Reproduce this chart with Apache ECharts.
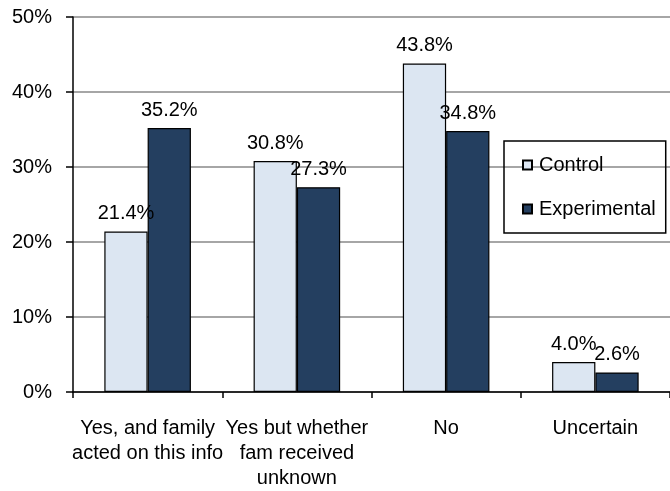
<!DOCTYPE html>
<html>
<head>
<meta charset="utf-8">
<script src="https://cdn.jsdelivr.net/npm/echarts@6/dist/echarts.min.js"></script>
<style>html,body{margin:0;padding:0;background:#fff;}#c{width:670px;height:491px;}</style>
</head>
<body>
<div id="c"></div>
<script>
const categories = ['Yes, and family\nacted on this info', 'Yes but whether\nfam received\nunknown', 'No', 'Uncertain'];
const controlValues = [21.4, 30.8, 43.8, 4.0];
const experimentalValues = [35.2, 27.3, 34.8, 2.6];
const yTicks = [0, 10, 20, 30, 40, 50];

const FONT = 'Liberation Sans';
const FS = 20;
const chart = echarts.init(document.getElementById('c'), null, {renderer: 'canvas'});
const labelCfg = {
  show: true, position: 'top', distance: 8,
  fontFamily: FONT, fontSize: FS, color: '#000',
  formatter: p => p.value.toFixed(1) + '%'
};
chart.setOption({
  animation: false,
  backgroundColor: '#fff',
  textStyle: {fontFamily: FONT},
  grid: {left: 73, right: -8, top: 17, bottom: 95, containLabel: false},
  legend: {
    orient: 'vertical', left: 504, top: 141,
    padding: [14, 10, 14, 18],
    itemGap: 24, itemWidth: 9, itemHeight: 9,
    icon: 'rect',
    borderColor: '#000', borderWidth: 1.5,
    textStyle: {fontFamily: FONT, fontSize: FS, color: '#000', padding: [0, 0, 0, 2]},
    data: ['Control', 'Experimental']
  },
  xAxis: {
    type: 'category', data: categories,
    axisLine: {lineStyle: {color: '#000', width: 1.5}},
    axisTick: {show: true, length: 6, inside: false, alignWithLabel: false, lineStyle: {color: '#000', width: 1.5}},
    axisLabel: {fontFamily: FONT, fontSize: FS, color: '#000', margin: 24, lineHeight: 25, interval: 0}
  },
  yAxis: {
    type: 'value', min: 0, max: 50, interval: 10,
    axisLine: {show: true, lineStyle: {color: '#000', width: 1.5}},
    axisTick: {show: true, length: 7, lineStyle: {color: '#000', width: 1.5}},
    splitLine: {show: true, lineStyle: {color: '#888', width: 1.5}},
    axisLabel: {fontFamily: FONT, fontSize: FS, color: '#000', margin: 21,
      formatter: v => yTicks.includes(v) ? v + '%' : ''}
  },
  series: [
    {name: 'Control', type: 'bar', data: controlValues, barGap: '0%', barCategoryGap: '42%',
     itemStyle: {color: '#dce6f2', borderColor: '#000', borderWidth: 1.2}, label: labelCfg},
    {name: 'Experimental', type: 'bar', data: experimentalValues, barGap: '0%', barCategoryGap: '42%',
     itemStyle: {color: '#243f60', borderColor: '#000', borderWidth: 1.2}, label: labelCfg}
  ]
});
</script>
</body>
</html>
